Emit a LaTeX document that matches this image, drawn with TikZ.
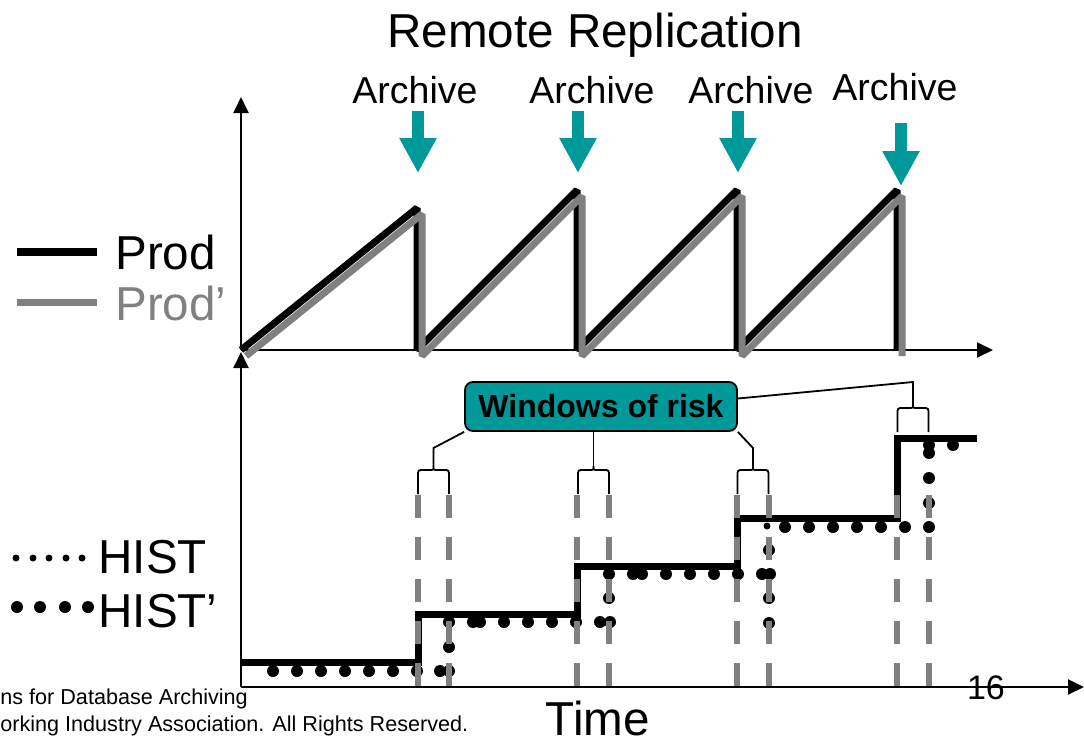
\documentclass[tikz,border=0pt]{standalone}
\usepackage{fontspec}
\setmainfont{Liberation Sans}
\usetikzlibrary{arrows.meta}
\definecolor{rrteal}{RGB}{0,153,153}
\definecolor{rrgray}{RGB}{128,128,128}
\tikzset{
  axis/.style={line width=1pt,-{Triangle[width=7.5pt,length=8pt]}},
  prodline/.style={line width=3.5pt,line join=bevel},
  histline/.style={line width=3.5pt},
  winline/.style={rrgray,line width=3pt,dash pattern=on 11.5pt off 9.5pt},
  riskline/.style={line width=0.9pt},
  archarrow/.style={rrteal,line width=6pt,-{Triangle[width=17.5pt,length=17.5pt]}},
  bigtext/.style={inner sep=0pt,font=\fontsize{23.8}{28}\selectfont},
  archtext/.style={inner sep=0pt,anchor=base,font=\fontsize{18.75}{22}\selectfont},
  foottext/.style={inner sep=0pt,anchor=base west,font=\fontsize{10.8}{13}\selectfont},
  riskbox/.style={draw,fill=rrteal,line width=0.9pt,rounded corners=4pt,inner sep=0pt,
    minimum width=136pt,minimum height=24.5pt,font=\bfseries\fontsize{16}{19}\selectfont},
  riskbrace/.pic={\draw[riskline] (-15.5,28) -- (-15.5,10) .. controls (-15.5,4) .. (-9.5,4)
    -- (-4,4) .. controls (0,4) .. (0,0) .. controls (0,4) .. (4,4) -- (9.5,4)
    .. controls (15.5,4) .. (15.5,10) -- (15.5,28);}
}
\begin{document}
\begin{tikzpicture}[x={(0.5pt,0)},y={(0,-0.5pt)}]
  \useasboundingbox (0,0) rectangle (1084,741);
  \node[bigtext,anchor=base] (title) at (595,47) {Remote Replication};
  % axes
  \draw[axis] (241,350) -- (241,97);
  \draw[axis] (241,350) -- (993,350);
  \draw[axis] (241,687) -- (241,352);
  \draw[axis] (241,687) -- (1084,687);
  % Prod and Prod' sawtooth
  \foreach \c/\s in {black/0,rrgray/1}
    \draw[prodline,\c,shift={(5*\s,6*\s)}] (241,350) -- (417,208) -- (417,350) -- (577,190)
      -- (577,350) -- (737,190) -- (737,350) -- (897,190) -- (897,350);
  % archive arrows
  \node[archtext] (arc1) at (415,103) {Archive};
  \node[archtext] (arc2) at (592,103) {Archive};
  \node[archtext] (arc3) at (751,103) {Archive};
  \node[archtext] (arc4) at (895,100) {Archive};
  \coordinate (tip1) at (418,173);
  \coordinate (tip2) at (578,173);
  \coordinate (tip3) at (738,173);
  \coordinate (tip4) at (901,186);
  \foreach \i/\g in {1/7,2/7,3/7,4/22}
    \draw[archarrow] (tip\i |- arc\i.south) ++(0,\g) -- (tip\i);
  % legend
  \node[bigtext,anchor=base west] (prod) at (115,269) {Prod};
  \node[bigtext,anchor=base west,rrgray] (prodp) at (115,320) {Prod’};
  \draw[line width=4pt] ([xshift=-9pt]prod.west) -- ++(-80,0);
  \draw[line width=3.5pt,rrgray] ([xshift=-9pt]prodp.west) -- ++(-80,0);
  \node[bigtext,anchor=base west] (hist) at (98,573) {HIST};
  \node[bigtext,anchor=base west] (histp) at (98,627) {HIST’};
  \foreach \x in {16,33,49,66,82} \fill (\x,558) circle[radius=1.75pt];
  \foreach \x in {17,40,65,88} \fill (\x,607) circle[radius=3pt];
  % HIST steps
  \draw[histline] (241,662) -- (418,662) -- (418,614) -- (577,614) -- (577,566) -- (737,566)
    -- (737,518) -- (897,518) -- (897,438) -- (977,438);
  % HIST' dots
  \foreach \x in {273,297,...,417,440,449} \fill (\x,671) circle[radius=3pt];
  \foreach \x in {473,480,504,528,552,576,600,610} \fill (\x,622) circle[radius=3pt];
  \foreach \x in {633,642,666,690,714,738,762,770} \fill (\x,574) circle[radius=3pt];
  \foreach \x in {785,809,833,857,881,905,929} \fill (\x,527) circle[radius=3pt];
  \foreach \x in {929,953} \fill (\x,445) circle[radius=3pt];
  \foreach \y in {647,622} \fill (449,\y) circle[radius=3pt];
  \foreach \y in {598,574} \fill (609,\y) circle[radius=3pt];
  \foreach \y in {550,598,623} \fill (769,\y) circle[radius=3pt];
  \foreach \y in {503,478,453} \fill (929,\y) circle[radius=3pt];
  \fill (767,526) circle[radius=1.75pt];
  % windows
  \foreach \x in {418,449,577,609,737,769,897,929} \draw[winline] (\x,495) -- (\x,687);
  \node[riskbox] (risk) at (601,406.5) {Windows of risk};
  \coordinate (cuspA) at (433.5,466);
  \coordinate (cuspB) at (593.5,466);
  \coordinate (cuspC) at (753,466);
  \coordinate (cuspD) at (913,404);
  \foreach \b in {A,B,C,D} \pic at (cusp\b) {riskbrace};
  \draw[riskline] (risk.south west) -- ([yshift=9pt]cuspA) -- (cuspA);
  \draw[riskline] (cuspB |- risk.south) -- (cuspB);
  \draw[riskline] (risk.south east) -- ([yshift=9pt]cuspC) -- (cuspC);
  \draw[riskline] ([yshift=4pt]risk.east) -- ([yshift=11pt]cuspD) -- (cuspD);
  % footer
  \node[bigtext,anchor=base] (time) at (598,735) {Time};
  \node[anchor=base,inner sep=0pt,font=\fontsize{17}{20}\selectfont] (page) at (986,699) {16};
  \node[foottext] (foot1) at (0,704) {ns for Database Archiving};
  \node[foottext] (foot2) at (0,731) {orking Industry Association. All Rights Reserved.};
\end{tikzpicture}
\end{document}
